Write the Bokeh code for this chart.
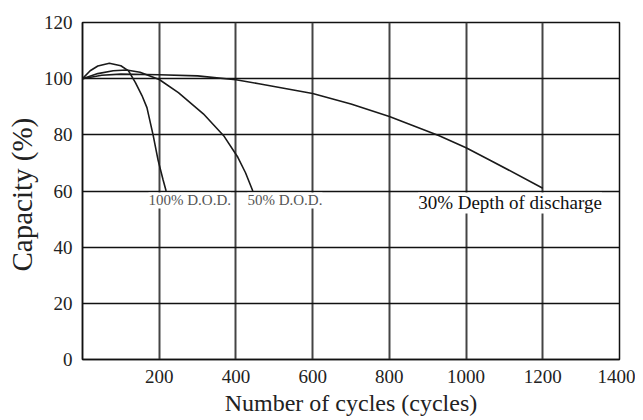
from bokeh.plotting import figure
from bokeh.models import ColumnDataSource, FixedTicker, Range1d
from bokeh.core.properties import value
from bokeh.embed import file_html
from bokeh.resources import INLINE

# ---- data ----
cycles_100 = [0, 20, 40, 70, 100, 120, 138, 155, 168, 184, 197, 210, 218]
cap_100 = [100, 102.8, 104.5, 105.5, 104.6, 102.8, 98.6, 94, 89.7, 80, 71, 64, 60]

cycles_50 = [0, 40, 80, 115, 150, 200, 250, 315, 368, 405, 425, 444]
cap_50 = [100, 101.8, 102.8, 103.1, 102.3, 99.7, 95, 87.5, 79.7, 72, 66.5, 60]

cycles_30 = [0, 50, 100, 200, 300, 400, 460, 600, 700, 800, 930, 1000, 1065, 1200]
cap_30 = [100, 101.2, 101.6, 101.4, 101, 99.6, 98.2, 94.7, 91, 86.5, 79.7, 75.4, 70.8, 61]

x_ticks = [200, 400, 600, 800, 1000, 1200, 1400]
y_ticks = [0, 20, 40, 60, 80, 100, 120]

label_text = ["100% D.O.D.", "50% D.O.D.", "30% Depth of discharge"]
label_x = [172, 430, 875]
label_y = [59.5, 59.5, 59.5]
label_color = ["#555555", "#555555", "#111111"]
label_size = ["15px", "15px", "19px"]

SERIF = "Liberation Serif"

p = figure(width=635, height=418, output_backend="svg", toolbar_location=None,
           x_range=Range1d(0, 1400), y_range=Range1d(0, 120),
           min_border_left=82, min_border_right=16, min_border_top=22, min_border_bottom=59)

p.outline_line_color = "#111111"
p.outline_line_width = 1.5

# grids
p.xgrid.ticker = FixedTicker(ticks=x_ticks)
p.ygrid.ticker = FixedTicker(ticks=y_ticks)
p.xgrid.grid_line_color = "#444444"
p.xgrid.grid_line_width = 2
p.ygrid.grid_line_color = "#111111"
p.ygrid.grid_line_width = 1.5

# axes
p.xaxis.ticker = FixedTicker(ticks=x_ticks)
p.yaxis.ticker = FixedTicker(ticks=y_ticks)
for ax in (p.xaxis[0], p.yaxis[0]):
    ax.major_tick_line_color = None
    ax.minor_tick_line_color = None
    ax.axis_line_color = "#111111"
    ax.axis_line_width = 1.5
    ax.major_label_text_font = SERIF
    ax.major_label_text_font_size = "19px"
    ax.major_label_text_color = "#222222"
    ax.axis_label_text_font = SERIF
    ax.axis_label_text_font_style = "normal"
    ax.axis_label_text_color = "#222222"

p.xaxis.axis_label = "Number of cycles (cycles)"
p.xaxis.axis_label_text_font_size = "24px"
p.xaxis.major_label_standoff = 4
p.xaxis.axis_label_standoff = 4

p.yaxis.axis_label = "Capacity  (%)"
p.yaxis.axis_label_text_font_size = "29px"
p.yaxis.major_label_standoff = 4
p.yaxis.axis_label_standoff = 3

# curves
for xs, ys in ((cycles_100, cap_100), (cycles_50, cap_50), (cycles_30, cap_30)):
    p.line(xs, ys, line_color="#1a1a1a", line_width=1.6)

# curve labels
src = ColumnDataSource(dict(x=label_x, y=label_y, text=label_text,
                            color=label_color, size=label_size))
p.text(x="x", y="y", text="text", source=src,
       text_font=value(SERIF), text_font_size="size", text_color="color",
       text_baseline="top", text_align="left",
       background_fill_color="white", padding=0)

open("out.html", "w").write(file_html(p, INLINE))
